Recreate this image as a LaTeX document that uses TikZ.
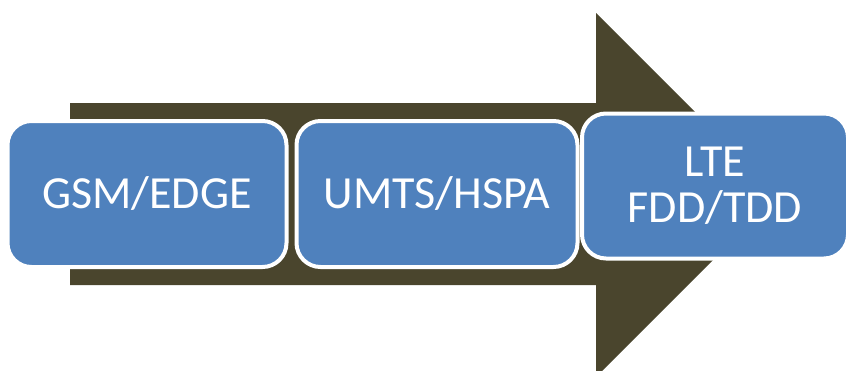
\documentclass[tikz,border=0pt]{standalone}
\usepackage{fontspec}
\setmainfont{Carlito}
\usetikzlibrary{positioning}
\definecolor{shaftbrown}{RGB}{74,69,45}
\definecolor{stageblue}{RGB}{79,129,189}
\tikzset{
  stage/.style={
    rectangle,
    draw=white,
    line width=4pt,
    fill=stageblue,
    text=white,
    rounded corners=24pt,
    minimum height=146pt,
    align=center,
    inner sep=2pt,
    font=\fontsize{46}{50}\selectfont
  }
}

\begin{document}
\begin{tikzpicture}[x=1pt,y=-1pt]
\useasboundingbox (0,0) rectangle (848,370);

% --- Evolution arrow (background) ---
\fill[shaftbrown] (70,103) -- (596,103) -- (596,13) -- (778,195)
  -- (596,377) -- (596,285) -- (70,285) -- cycle;

% --- Technology stages ---
\node[stage, minimum width=279pt] (gsm) at (147,194) {GSM/EDGE};
\node[stage, minimum width=281pt, right=6pt of gsm] (umts) {UMTS/HSPA};
\node[stage, minimum width=266pt, minimum height=145pt] (lte) at (715,186) {LTE\\[-4pt]FDD/TDD};

\end{tikzpicture}
\end{document}
